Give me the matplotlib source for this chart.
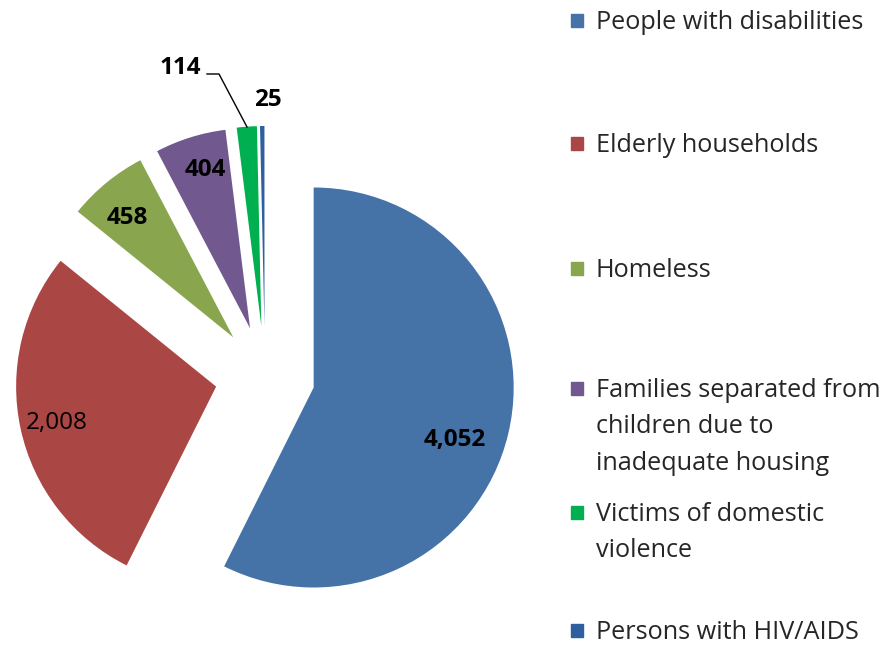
import matplotlib
matplotlib.use("Agg")
import matplotlib.pyplot as plt
from matplotlib.patches import Rectangle

plt.rcParams['font.family'] = ['Open Sans', 'DejaVu Sans']

# data
categories = ['People with disabilities', 'Elderly households', 'Homeless',
              'Families separated from\nchildren due to\ninadequate housing',
              'Victims of domestic\nviolence', 'Persons with HIV/AIDS']
values = [4052, 2008, 458, 404, 114, 25]
colors = ['#4572A7', '#AA4643', '#89A54E', '#71588F', '#00B050', '#2F5F9F']

fig = plt.figure(figsize=(8.87, 6.47), dpi=100)
W, H = 887, 647
cx, cy, R = 265, 376, 200   # pie centre / radius in pixels

ax = fig.add_axes([0, 0, 1, 1])

wedges, _ = ax.pie(values, colors=colors, startangle=90, counterclock=False,
                   explode=[0.25] * len(values), radius=1,
                   wedgeprops=dict(linewidth=0))

ax.set_xlim(-cx / R, (W - cx) / R)
ax.set_ylim(-(H - cy) / R, cy / R)
ax.set_aspect('equal')
ax.axis('off')

# data labels (pixel positions as in the original)
label_px = [(455, 440), (57, 423), (127, 218), (205, 170), (180, 68), (268, 100)]
bold = [True, False, True, True, True, True]
for v, (px, py), b in zip(values, label_px, bold):
    ax.text((px - cx) / R, (cy - py) / R, f'{v:,}', ha='center', va='center',
            fontsize=17.5, fontweight='bold' if b else 'normal', color='black')

# leader line for the 114 label
lx = [(p - cx) / R for p in (207, 219, 247)]
ly = [(cy - p) / R for p in (74, 74, 127)]
ax.plot(lx, ly, color='black', linewidth=1)

# legend
leg_y = [20, 143, 268, 388, 512, 630]
for name, col, y in zip(categories, colors, leg_y):
    fig.patches.append(Rectangle((571 / W, 1 - (y + 7) / H), 12 / W, 13 / H,
                                 transform=fig.transFigure, color=col))
    fig.text(596 / W, 1 - (y - 10) / H, name, ha='left', va='top',
             fontsize=18.2, color='#262626', linespacing=1.6)

fig.savefig('out.png', dpi=100)
